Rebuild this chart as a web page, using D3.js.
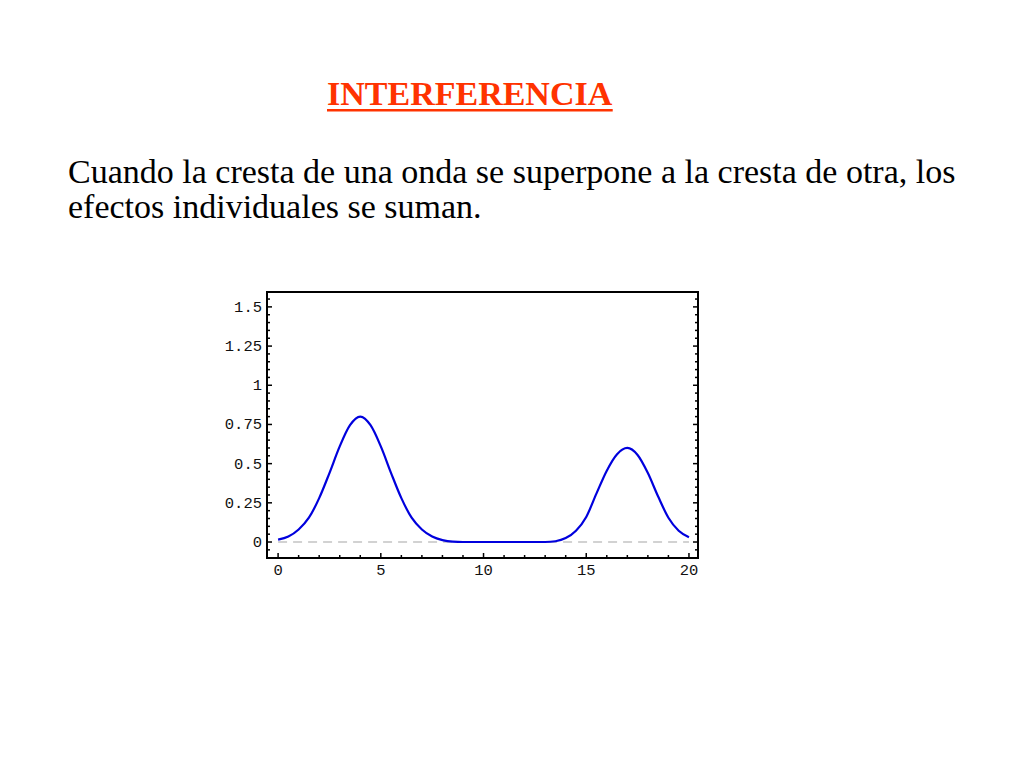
<!DOCTYPE html>
<html>
<head>
<meta charset="utf-8">
<script src="https://cdn.jsdelivr.net/npm/d3@7"></script>
<style>
  body { margin: 0; background: #fff; }
  svg { display: block; }
</style>
</head>
<body>
<div id="chart"></div>
<script>
// curve samples (x, y)
var waveX = [0, 0.5, 1, 1.5, 2, 2.5, 3, 3.5, 4, 4.5, 5, 5.5, 6, 6.5, 7, 7.5, 8, 8.5, 9,
             10, 11, 12, 13, 13.5, 14, 14.5, 15, 15.5, 16, 16.5, 17, 17.5, 18, 18.5, 19, 19.5, 20];
var waveY = [0.015, 0.035, 0.08, 0.155, 0.28, 0.44, 0.61, 0.745, 0.8, 0.745, 0.61, 0.44, 0.28, 0.155, 0.08, 0.035, 0.012, 0.002, 0,
             0, 0, 0, 0, 0.005, 0.025, 0.072, 0.16, 0.31, 0.455, 0.56, 0.6, 0.555, 0.44, 0.29, 0.155, 0.072, 0.03];

var xMajor = [0, 5, 10, 15, 20];
var xMinor = [1, 2, 3, 4, 6, 7, 8, 9, 11, 12, 13, 14, 16, 17, 18, 19];
var yMajor = [0, 0.25, 0.5, 0.75, 1, 1.25, 1.5];
var yMajorLabels = ["0", "0.25", "0.5", "0.75", "1", "1.25", "1.5"];
var yMinor = [-0.05, 0.05, 0.1, 0.15, 0.2, 0.3, 0.35, 0.4, 0.45, 0.55, 0.6, 0.65, 0.7,
              0.8, 0.85, 0.9, 0.95, 1.05, 1.1, 1.15, 1.2, 1.3, 1.35, 1.4, 1.45, 1.55];

var titleText = "INTERFERENCIA";
var bodyLines = ["Cuando la cresta de una onda se superpone a la cresta de otra, los",
                 "efectos individuales se suman."];

var wd = 1024, ht = 768;

var svg = d3.select('#chart')
	.append("svg")
	.attr("width", wd)
	.attr("height", ht);

// ---- heading + text
var title = svg.append("text")
	.attr("x", 327)
	.attr("y", 105)
	.attr("font-family", "'Liberation Serif', 'Times New Roman', serif")
	.attr("font-weight", "bold")
	.attr("font-size", 34)
	.attr("fill", "#ff3300")
	.text(titleText);

var tb = title.node().getBBox();
svg.append("rect")
	.attr("x", tb.x)
	.attr("y", 109)
	.attr("width", tb.width)
	.attr("height", 2.5)
	.attr("fill", "#ff3300");

svg.selectAll(".bodyLine")
	.data(bodyLines)
	.enter()
	.append("text")
	.attr("class", "bodyLine")
	.attr("x", 68)
	.attr("y", function (d, i) { return 183 + i * 35; })
	.attr("font-family", "'Liberation Serif', 'Times New Roman', serif")
	.attr("font-size", 34)
	.attr("fill", "#000")
	.text(function (d) { return d; });

// ---- plot
var x = d3.scaleLinear().domain([-0.54, 20.44]).range([267, 698]);
var y = d3.scaleLinear().domain([-0.102, 1.595]).range([558, 292]);

var plot = svg.append("g").attr("class", "plot");

// dashed zero line
plot.append("line")
	.attr("x1", x(0))
	.attr("x2", x(20))
	.attr("y1", y(0))
	.attr("y2", y(0))
	.attr("stroke", "#c4c4c4")
	.attr("stroke-width", 1.5)
	.attr("stroke-dasharray", "9,6");

var pts = waveX.map(function (d, i) { return [d, waveY[i]]; });

var line = d3.line()
	.x(function (d) { return x(d[0]); })
	.y(function (d) { return y(d[1]); })
	.curve(d3.curveMonotoneX);

plot.append("path")
	.datum(pts)
	.attr("d", line)
	.attr("fill", "none")
	.attr("stroke", "#0000dd")
	.attr("stroke-width", 2.2);

// frame
plot.append("rect")
	.attr("x", x.range()[0])
	.attr("y", y.range()[1])
	.attr("width", x.range()[1] - x.range()[0])
	.attr("height", y.range()[0] - y.range()[1])
	.attr("fill", "none")
	.attr("stroke", "#000")
	.attr("stroke-width", 2);

// inward ticks on all four sides
var majLen = 5, minLen = 3;
var bottom = y.range()[0], top = y.range()[1];
var left = x.range()[0], right = x.range()[1];

function xTicks(vals, len) {
	plot.selectAll(null).data(vals).enter().append("line")
		.attr("x1", function (d) { return x(d); })
		.attr("x2", function (d) { return x(d); })
		.attr("y1", bottom).attr("y2", bottom - len)
		.attr("stroke", "#000").attr("stroke-width", 1.5);
	plot.selectAll(null).data(vals).enter().append("line")
		.attr("x1", function (d) { return x(d); })
		.attr("x2", function (d) { return x(d); })
		.attr("y1", top).attr("y2", top + len)
		.attr("stroke", "#000").attr("stroke-width", 1.5);
}
function yTicks(vals, len) {
	plot.selectAll(null).data(vals).enter().append("line")
		.attr("y1", function (d) { return y(d); })
		.attr("y2", function (d) { return y(d); })
		.attr("x1", left).attr("x2", left + len)
		.attr("stroke", "#000").attr("stroke-width", 1.5);
	plot.selectAll(null).data(vals).enter().append("line")
		.attr("y1", function (d) { return y(d); })
		.attr("y2", function (d) { return y(d); })
		.attr("x1", right).attr("x2", right - len)
		.attr("stroke", "#000").attr("stroke-width", 1.5);
}
xTicks(xMajor, majLen);
xTicks(xMinor, minLen);
yTicks(yMajor, majLen);
yTicks(yMinor, minLen);

// tick labels
plot.selectAll(".xlab").data(xMajor).enter().append("text")
	.attr("class", "xlab")
	.attr("x", function (d) { return x(d); })
	.attr("y", 575)
	.attr("text-anchor", "middle")
	.attr("font-family", "'Liberation Mono', 'Courier New', monospace")
	.attr("font-size", 15.5)
	.attr("fill", "#111")
	.text(function (d) { return d; });

plot.selectAll(".ylab").data(yMajor).enter().append("text")
	.attr("class", "ylab")
	.attr("x", left - 5)
	.attr("y", function (d) { return y(d) + 5; })
	.attr("text-anchor", "end")
	.attr("font-family", "'Liberation Mono', 'Courier New', monospace")
	.attr("font-size", 15.5)
	.attr("fill", "#111")
	.text(function (d, i) { return yMajorLabels[i]; });
</script>
</body>
</html>
